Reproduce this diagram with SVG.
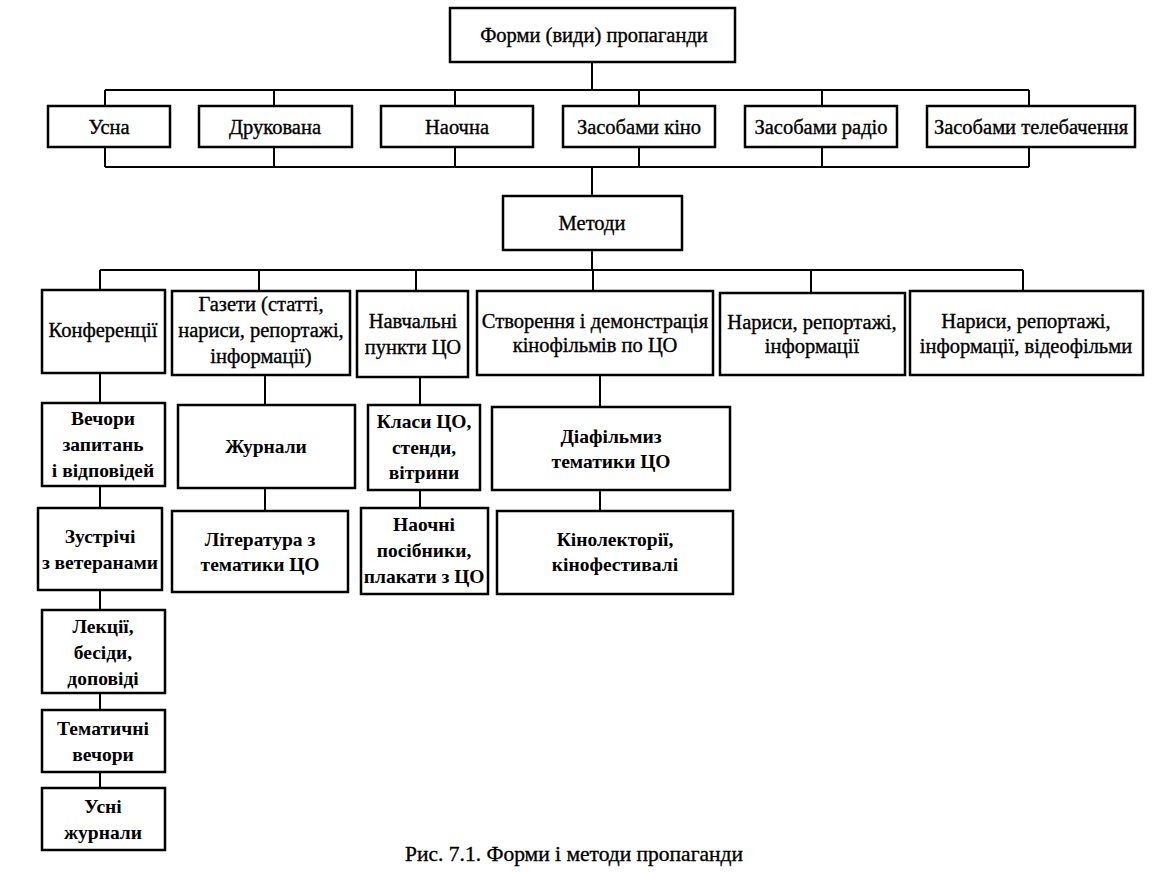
<svg xmlns="http://www.w3.org/2000/svg" width="1159" height="873" viewBox="0 0 1159 873">
<style>
.b{fill:#fff;stroke:#000;stroke-width:2.5}
.c{fill:none;stroke:#000;stroke-width:2}
text{font-family:"Liberation Serif","Times New Roman",serif;font-size:20.5px;fill:#000;stroke:#000;stroke-width:0.35;text-anchor:middle;dominant-baseline:central}
.bd{font-weight:bold;font-size:19.5px;stroke-width:0}
.cap{font-size:21.5px}
</style>
<rect width="1159" height="873" fill="#fff"/>
<g id="connectors">
<path class="c" d="M592 62V90M105 90H1029M105 90V106M274 90V106M455 90V106M639 90V106M822 90V106M1029 90V106"/>
<path class="c" d="M105 147V167M274 147V167M455 147V167M639 147V167M822 147V167M1029 147V167M105 167H1029M592 167V196"/>
<path class="c" d="M592 250V270M100 270H1023M100 270V290M259 270V291M416 270V291M593 270V291M811 270V293M1023 270V291"/>
<path class="c" d="M100 373V403M265 375V405M420 377V405M600 375V407"/>
<path class="c" d="M100 486V508M265 488V511M420 490V508M600 490V511"/>
<path class="c" d="M100 590V610M100 693V710M100 772V788"/>
</g>
<g id="n-root"><rect class="b" x="450" y="8" width="285" height="54"/><text x="594" y="35">Форми (види) пропаганди</text></g>
<g id="n-usna"><rect class="b" x="48" y="106" width="122" height="41"/><text x="109" y="127">Усна</text></g>
<g id="n-drukovana"><rect class="b" x="199" y="106" width="153" height="41"/><text x="275" y="127">Друкована</text></g>
<g id="n-naochna"><rect class="b" x="381" y="106" width="152" height="41"/><text x="457" y="127">Наочна</text></g>
<g id="n-kino"><rect class="b" x="563" y="106" width="152" height="41"/><text x="639" y="127">Засобами кіно</text></g>
<g id="n-radio"><rect class="b" x="745" y="106" width="152" height="41"/><text x="821" y="127">Засобами радіо</text></g>
<g id="n-tv"><rect class="b" x="927" y="106" width="208" height="41"/><text x="1031" y="127">Засобами телебачення</text></g>
<g id="n-metody"><rect class="b" x="503" y="196" width="179" height="54"/><text x="592" y="223">Методи</text></g>
<g id="n-konf"><rect class="b" x="42" y="290" width="123" height="83"/><text x="103" y="330">Конференції</text></g>
<g id="n-gazety"><rect class="b" x="172" y="291" width="178" height="84"/><text x="261" y="304">Газети (статті,</text><text x="261" y="330">нариси,  репортажі,</text><text x="261" y="356">інформації)</text></g>
<g id="n-navch"><rect class="b" x="357" y="291" width="111" height="86"/><text x="413" y="321">Навчальні</text><text x="413" y="347">пункти ЦО</text></g>
<g id="n-stvor"><rect class="b" x="477" y="291" width="236" height="84"/><text x="595" y="321">Створення і демонстрація</text><text x="595" y="345">кінофільмів по ЦО</text></g>
<g id="n-naryсy"><rect class="b" x="720" y="293" width="185" height="82"/><text x="812" y="322">Нариси,  репортажі,</text><text x="812" y="346">інформації</text></g>
<g id="n-naryсy-video"><rect class="b" x="910" y="291" width="233" height="84"/><text x="1026" y="321">Нариси,  репортажі,</text><text x="1026" y="346">інформації,  відеофільми</text></g>
<g id="n-vechory"><rect class="b" x="42" y="403" width="123" height="83"/><text class="bd" x="103" y="418">Вечори</text><text class="bd" x="103" y="444">запитань</text><text class="bd" x="103" y="470">і відповідей</text></g>
<g id="n-zhurnaly"><rect class="b" x="178" y="405" width="177" height="83"/><text class="bd" x="266" y="446">Журнали</text></g>
<g id="n-klasy"><rect class="b" x="368" y="405" width="112" height="85"/><text class="bd" x="424" y="421">Класи ЦО,</text><text class="bd" x="424" y="447">стенди,</text><text class="bd" x="424" y="472">вітрини</text></g>
<g id="n-diafilmy"><rect class="b" x="492" y="407" width="238" height="83"/><text class="bd" x="611" y="436">Діафільмиз</text><text class="bd" x="611" y="461">тематики ЦО</text></g>
<g id="n-zustrichi"><rect class="b" x="38" y="508" width="124" height="82"/><text class="bd" x="100" y="536">Зустрічі</text><text class="bd" x="100" y="562">з ветеранами</text></g>
<g id="n-literatura"><rect class="b" x="172" y="511" width="176" height="81"/><text class="bd" x="260" y="539">Література з</text><text class="bd" x="260" y="564">тематики ЦО</text></g>
<g id="n-posibnyky"><rect class="b" x="361" y="508" width="127" height="86"/><text class="bd" x="424" y="524">Наочні</text><text class="bd" x="424" y="550">посібники,</text><text class="bd" x="424" y="576">плакати з ЦО</text></g>
<g id="n-kinolektorii"><rect class="b" x="497" y="511" width="236" height="83"/><text class="bd" x="615" y="539">Кінолекторії,</text><text class="bd" x="615" y="564">кінофестивалі</text></g>
<g id="n-lektsii"><rect class="b" x="42" y="610" width="123" height="83"/><text class="bd" x="103" y="626">Лекції,</text><text class="bd" x="103" y="652">бесіди,</text><text class="bd" x="103" y="678">доповіді</text></g>
<g id="n-tematychni"><rect class="b" x="42" y="710" width="123" height="62"/><text class="bd" x="103" y="728">Тематичні</text><text class="bd" x="103" y="754">вечори</text></g>
<g id="n-usni"><rect class="b" x="42" y="788" width="123" height="62"/><text class="bd" x="103" y="806">Усні</text><text class="bd" x="103" y="832">журнали</text></g>
<text class="cap" x="574" y="854">Рис. 7.1. Форми і методи пропаганди</text>
</svg>
